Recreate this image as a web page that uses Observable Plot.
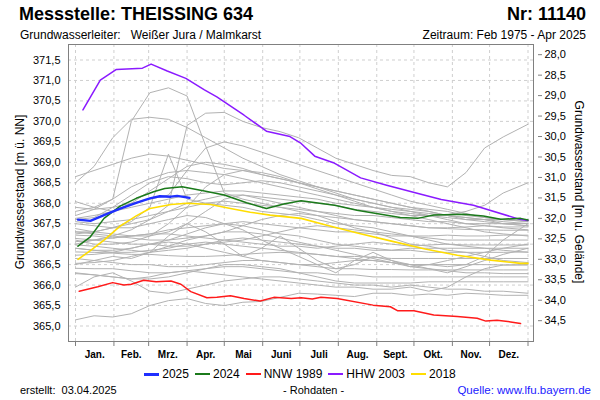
<!DOCTYPE html>
<html><head><meta charset="utf-8">
<script src="https://cdn.jsdelivr.net/npm/d3@7"></script>
<script src="https://cdn.jsdelivr.net/npm/@observablehq/plot@0.6"></script>
<style>
body{margin:0;background:#fff;font-family:"Liberation Sans",Arial,sans-serif;}
#wrap{position:relative;width:600px;height:400px;overflow:hidden;}
.t{position:absolute;white-space:nowrap;color:#000;line-height:1;}
#chart{position:absolute;left:0;top:40px;}
#legend{position:absolute;left:0;width:600px;top:367px;display:flex;justify-content:center;align-items:center;font-size:12px;}
#legend span.it{display:inline-flex;align-items:center;margin:0 3px;}
#legend span.sw{display:inline-block;width:15px;margin-right:3px;}
</style></head><body><div id="wrap">
<div class="t" style="left:19px;top:5px;font-size:18px;font-weight:bold;">Messstelle: THEISSING 634</div>
<div class="t" style="right:14px;top:5px;font-size:18px;font-weight:bold;">Nr: 11140</div>
<div class="t" style="left:20px;top:29px;font-size:12px;">Grundwasserleiter:&nbsp;&nbsp; Weißer Jura / Malmkarst</div>
<div class="t" style="right:14px;top:29px;font-size:12px;">Zeitraum: Feb 1975 - Apr 2025</div>
<div class="t" style="left:20px;top:192px;font-size:12px;transform:translate(-50%,-50%) rotate(-90deg);">Grundwasserstand [m ü. NN]</div>
<div class="t" style="left:579px;top:192px;font-size:12px;transform:translate(-50%,-50%) rotate(90deg);">Grundwasserstand [m u. Gelände]</div>
<div id="chart"></div>
<div id="legend"></div>
<div class="t" style="left:20px;top:385px;font-size:11px;">erstellt:&nbsp; 03.04.2025</div>
<div class="t" style="left:283px;top:385px;font-size:11px;">- Rohdaten -</div>
<div class="t" style="right:9px;top:385px;font-size:11.5px;color:#1a1aff;">Quelle: www.lfu.bayern.de</div>
</div>
<script>
// ---------- data ----------
const months = ["Jan.","Feb.","Mrz.","Apr.","Mai","Juni","Juli","Aug.","Sept.","Okt.","Nov.","Dez."];
const monthStarts = [0,31,59,90,120,151,181,212,243,273,304,334,365];
const leftTicks = [365.0,365.5,366.0,366.5,367.0,367.5,368.0,368.5,369.0,369.5,370.0,370.5,371.0,371.5];
const rightTicks = [28.0,28.5,29.0,29.5,30.0,30.5,31.0,31.5,32.0,32.5,33.0,33.5,34.0,34.5];
const groundLevel = 399.63;

const legendLabels = ["2025","2024","NNW 1989","HHW 2003","2018"];
const legendColors = ["#1f2fff","#1b7a1b","#ff1a1a","#8a1aff","#ffdd00"];

const days2025 = [2,12,23,36,49,60,68,77,82,92];
const vals2025 = [367.60,367.57,367.71,367.87,368.01,368.12,368.17,368.16,368.18,368.13];

const days2024 = [2,12,23,36,49,63,72,86,104,120,138,154,168,182,209,227,262,276,289,313,329,343,359,365];
const vals2024 = [366.95,367.18,367.63,367.93,368.12,368.28,368.36,368.40,368.30,368.20,368.01,367.87,367.98,368.06,367.95,367.83,367.65,367.63,367.71,367.73,367.69,367.61,367.63,367.59];

const days1989 = [3,18,30,39,45,55,65,77,85,93,106,114,125,136,149,160,174,182,191,198,211,240,254,260,273,289,308,324,331,340,351,359];
const vals1989 = [365.85,365.96,366.06,366.00,366.02,366.12,366.08,366.10,366.02,365.84,365.69,365.70,365.74,365.67,365.61,365.70,365.67,365.69,365.66,365.70,365.67,365.51,365.47,365.37,365.37,365.27,365.23,365.19,365.12,365.14,365.10,365.06];

const days2003 = [6,20,33,54,61,74,89,104,114,136,149,154,173,182,193,208,230,251,281,295,321,359,365];
const vals2003 = [370.28,371.01,371.27,371.30,371.40,371.23,371.05,370.77,370.60,370.15,369.87,369.76,369.63,369.46,369.15,368.99,368.62,368.44,368.20,368.09,367.95,367.60,367.58];

const days2018 = [2,12,23,36,49,60,77,90,109,125,141,157,182,202,229,254,282,308,335,359,365];
const vals2018 = [366.63,366.84,367.10,367.44,367.69,367.87,367.97,368.00,367.97,367.87,367.78,367.71,367.63,367.47,367.26,367.08,366.88,366.73,366.61,366.53,366.53];

// other years (grey), sampled on grayDays
const grayDays = [0,15,30,45,60,75,90,105,120,135,150,165,180,195,210,225,240,255,270,285,300,315,330,345,365];
const grayValues = [
 [367.7,367.85,368.1,370.0,370.7,370.82,370.62,369.4,368.25,368.1,368.0,367.9,367.8,367.7,367.55,367.4,367.3,367.15,367.0,366.95,366.85,366.8,366.7,366.6,366.55],
 [368.5,368.9,369.6,370.05,370.1,370.05,369.85,369.6,369.35,369.1,368.9,368.7,368.55,368.4,368.25,368.1,368.0,367.9,367.8,367.7,367.6,367.5,367.45,367.4,367.35],
 [367.0,367.1,367.2,367.35,367.6,367.95,369.9,370.2,370.22,370.0,369.85,369.75,369.6,369.35,369.1,368.95,368.8,368.68,368.65,368.5,368.4,368.75,369.35,369.62,369.93],
 [367.25,367.3,367.4,367.55,367.9,369.2,368.1,368.0,367.95,367.9,367.8,367.75,367.7,367.6,367.5,367.45,367.4,367.3,367.2,367.1,367.0,366.95,366.9,366.85,366.8],
 [368.65,368.8,368.95,369.1,369.2,369.15,369.05,368.95,368.85,368.8,368.7,368.6,368.5,368.4,368.3,368.2,368.1,368.0,367.9,367.85,367.8,367.7,367.65,367.6,367.55],
 [367.9,367.85,367.9,368.0,368.1,368.2,368.8,369.35,369.5,369.4,369.25,369.1,368.95,368.8,368.65,368.5,368.35,368.2,368.05,367.95,367.85,367.75,367.65,367.6,367.55],
 [368.04,367.9,367.8,368.0,368.3,368.6,368.9,369.0,368.95,368.85,368.7,368.6,368.5,368.4,368.3,368.2,368.1,368.0,367.9,367.8,367.7,367.6,367.6,367.5,367.45],
 [367.3,367.3,367.4,367.5,367.6,367.8,368.0,368.1,368.2,368.2,368.15,368.1,368.05,368.0,367.95,367.85,367.8,367.75,367.7,367.7,367.72,367.8,367.95,368.25,368.5],
 [366.9,366.85,366.8,366.8,366.85,366.9,367.0,367.05,367.0,366.95,366.9,366.85,366.8,366.75,366.7,366.65,366.6,366.55,366.5,366.5,366.45,366.5,366.7,367.1,367.5],
 [366.3,366.25,366.2,366.15,366.2,366.3,366.35,366.3,366.25,366.2,366.15,366.1,366.05,366.0,365.95,365.95,365.9,365.9,365.95,365.85,365.95,366.2,366.4,366.49,366.5],
 [365.15,365.25,365.22,365.3,365.5,365.62,365.67,365.55,365.5,365.58,365.6,365.7,365.8,365.78,365.75,365.72,365.8,365.8,365.75,365.78,365.75,365.8,365.78,365.75,365.75],
 [365.95,366.2,366.3,366.1,365.85,365.8,365.9,366.0,366.1,366.15,366.2,366.2,366.15,366.1,366.05,366.0,366.0,365.95,366.0,365.95,365.9,365.9,365.85,365.85,365.8],
 [367.63,367.7,367.8,367.9,368.0,368.1,368.2,368.25,368.3,368.3,368.25,368.2,368.15,368.1,368.0,367.95,367.9,367.85,367.8,367.75,367.7,367.65,367.6,367.6,367.59],
 [367.55,367.5,367.55,367.6,367.7,367.8,367.9,368.0,368.05,368.0,367.95,367.9,367.85,367.8,367.75,367.7,367.7,367.65,367.6,367.55,367.55,367.5,367.5,367.5,367.51],
 [367.38,367.3,367.25,367.2,367.2,367.3,367.5,367.8,368.1,368.2,368.1,368.0,367.9,367.8,367.7,367.6,367.55,367.5,367.45,367.4,367.4,367.42,367.45,367.42,367.42],
 [367.3,367.25,367.2,367.15,367.1,367.1,367.15,367.2,367.3,367.45,367.6,367.7,367.75,367.7,367.65,367.6,367.55,367.5,367.45,367.4,367.38,367.36,367.35,367.34,367.34],
 [367.22,367.2,367.15,367.2,367.25,367.35,367.4,367.45,367.5,367.55,367.5,367.45,367.4,367.35,367.3,367.3,367.25,367.2,367.2,367.2,367.22,367.2,367.2,367.22,367.22],
 [367.14,367.1,367.05,367.0,367.0,366.95,366.95,367.0,367.05,367.1,367.2,367.3,367.4,367.45,367.4,367.35,367.3,367.25,367.2,367.15,367.1,367.1,367.1,367.1,367.1],
 [367.06,367.1,367.15,367.2,367.25,367.25,367.2,367.15,367.1,367.05,367.0,366.95,366.95,366.9,366.95,367.0,367.05,367.0,366.95,366.98,367.0,366.98,366.98,366.98,366.98],
 [366.98,366.95,366.9,366.85,366.8,366.85,366.9,367.0,367.1,367.15,367.1,367.05,367.0,366.95,366.9,366.9,366.85,366.85,366.9,366.9,366.9,366.9,366.9,366.9,366.9],
 [366.9,366.85,366.85,366.9,367.0,367.1,367.25,367.4,367.5,367.45,367.35,367.25,367.2,367.1,367.0,366.95,366.9,366.85,366.85,366.8,366.8,366.8,366.8,366.8,366.81],
 [366.81,366.8,366.78,366.75,366.75,366.72,366.7,366.7,366.72,366.75,366.78,366.8,366.78,366.75,366.7,366.7,366.68,366.65,366.65,366.65,366.65,366.65,366.65,366.65,366.65],
 [366.73,366.75,366.8,366.9,367.0,367.05,367.0,366.9,366.8,366.7,366.6,366.55,366.5,366.5,366.55,366.6,366.6,366.55,366.5,366.5,366.5,366.5,366.5,366.49,366.49],
 [366.65,366.6,366.55,366.5,366.5,366.45,366.45,366.5,366.55,366.6,366.6,366.55,366.5,366.45,366.4,366.4,366.38,366.38,366.37,366.37,366.37,366.37,366.37,366.37,366.37],
 [366.53,366.55,366.6,366.7,366.8,366.95,367.1,367.2,367.3,367.3,367.25,367.15,367.05,366.95,366.85,366.75,366.65,366.55,366.45,366.4,366.35,366.3,366.3,366.28,366.28],
 [366.41,366.4,366.4,366.35,366.3,366.3,366.35,366.4,366.45,366.45,366.4,366.35,366.3,366.3,366.25,366.25,366.2,366.2,366.2,366.2,366.2,366.2,366.2,366.2,366.2],
 [366.28,366.25,366.2,366.15,366.15,366.2,366.3,366.4,366.5,366.5,366.45,366.4,366.3,366.2,366.1,366.05,366.05,366.05,366.05,366.08,366.08,366.08,366.08,366.08,366.08],
 [366.5,366.6,366.7,366.65,366.8,367.2,367.5,367.3,367.0,366.7,366.9,367.2,366.9,366.6,366.4,366.5,366.7,366.6,366.45,366.5,366.6,366.7,366.8,366.9,367.0],
 [367.5,367.45,367.4,367.4,367.5,367.6,367.7,367.65,367.5,367.35,367.1,366.9,366.7,366.5,366.3,366.6,366.8,366.6,366.5,366.4,366.3,366.45,366.6,366.75,366.9],
 [367.8,367.9,368.1,368.4,368.6,368.75,368.8,368.75,368.7,368.6,368.5,368.4,368.3,368.2,368.1,368.0,367.9,367.8,367.75,367.7,367.65,367.6,367.55,367.5,367.45],
 [367.6,367.65,367.9,368.2,368.5,368.65,368.6,368.5,368.45,368.5,368.55,368.5,368.4,368.3,368.2,368.1,368.0,367.9,367.85,367.8,367.7,367.65,367.6,367.55,367.5],
 [367.1,367.0,367.0,367.05,367.2,367.5,367.9,368.4,368.7,368.8,368.75,368.65,368.5,368.35,368.2,368.05,367.9,367.8,367.7,367.6,367.5,367.4,367.3,367.25,367.2]
];

// ---------- build ----------
const fmt = v => v.toFixed(1).replace(".", ",");
const grayRows = [];
grayValues.forEach((vals, k) => vals.forEach((v, i) => grayRows.push({day: grayDays[i], value: v, id: k})));
const mk = (days, vals) => days.map((d, i) => ({day: d, value: vals[i]}));
const monthMids = months.map((m, i) => (monthStarts[i] + monthStarts[i + 1]) / 2);
const monthLabel = new Map(monthMids.map((d, i) => [d, months[i]]));
const rightTickLevels = rightTicks.map(d => groundLevel - d);

const svgTop = 40;
const chart = Plot.plot({
  width: 600, height: 322,
  marginTop: 4, marginBottom: 21, marginLeft: 68, marginRight: 67,
  x: {domain: [0, 365], range: [75, 527.5]},
  y: {domain: [365, 371.5], range: [325.5 - svgTop, 59.5 - svgTop]},
  style: {fontFamily: "'Liberation Sans', Arial, sans-serif", fontSize: "11px", background: "transparent", color: "#000"},
  marks: [
    Plot.gridY(leftTicks, {stroke: "#cfcfcf", strokeOpacity: 1, strokeDasharray: "3,3"}),
    Plot.gridX(monthStarts, {stroke: "#cfcfcf", strokeOpacity: 1, strokeDasharray: "3,3"}),
    Plot.line(grayRows, {x: "day", y: "value", z: "id", stroke: "#b2b2b2", strokeWidth: 1}),
    Plot.line(mk(days2018, vals2018), {x: "day", y: "value", stroke: legendColors[4], strokeWidth: 1.6}),
    Plot.line(mk(days1989, vals1989), {x: "day", y: "value", stroke: legendColors[2], strokeWidth: 1.5}),
    Plot.line(mk(days2003, vals2003), {x: "day", y: "value", stroke: legendColors[3], strokeWidth: 1.5}),
    Plot.line(mk(days2024, vals2024), {x: "day", y: "value", stroke: legendColors[1], strokeWidth: 1.5}),
    Plot.line(mk(days2025, vals2025), {x: "day", y: "value", stroke: legendColors[0], strokeWidth: 2.4}),
    Plot.frame({stroke: "#808080"}),
    Plot.axisY(leftTicks, {anchor: "left", tickSize: 0, tickPadding: 8, tickFormat: fmt, label: null}),
    Plot.axisY(rightTickLevels, {anchor: "right", tickSize: 4, dx: 4, tickPadding: 3, stroke: "#808080", tickFormat: v => fmt(groundLevel - v), label: null}),
    Plot.axisX(monthStarts, {anchor: "bottom", tickSize: 5, stroke: "#808080", tickFormat: () => "", label: null}),
    Plot.axisX(monthMids, {anchor: "bottom", tickSize: 0, tickPadding: 9, fontWeight: "bold", fontSize: 10, tickFormat: d => monthLabel.get(d), label: null})
  ]
});
document.getElementById("chart").appendChild(chart);

const legend = document.getElementById("legend");
legendLabels.forEach((lab, i) => {
  const it = document.createElement("span");
  it.className = "it";
  const sw = document.createElement("span");
  sw.className = "sw";
  sw.style.height = (i === 0 ? 3 : 2) + "px";
  sw.style.background = legendColors[i];
  it.appendChild(sw);
  it.appendChild(document.createTextNode(lab));
  legend.appendChild(it);
});
</script>
</body></html>
